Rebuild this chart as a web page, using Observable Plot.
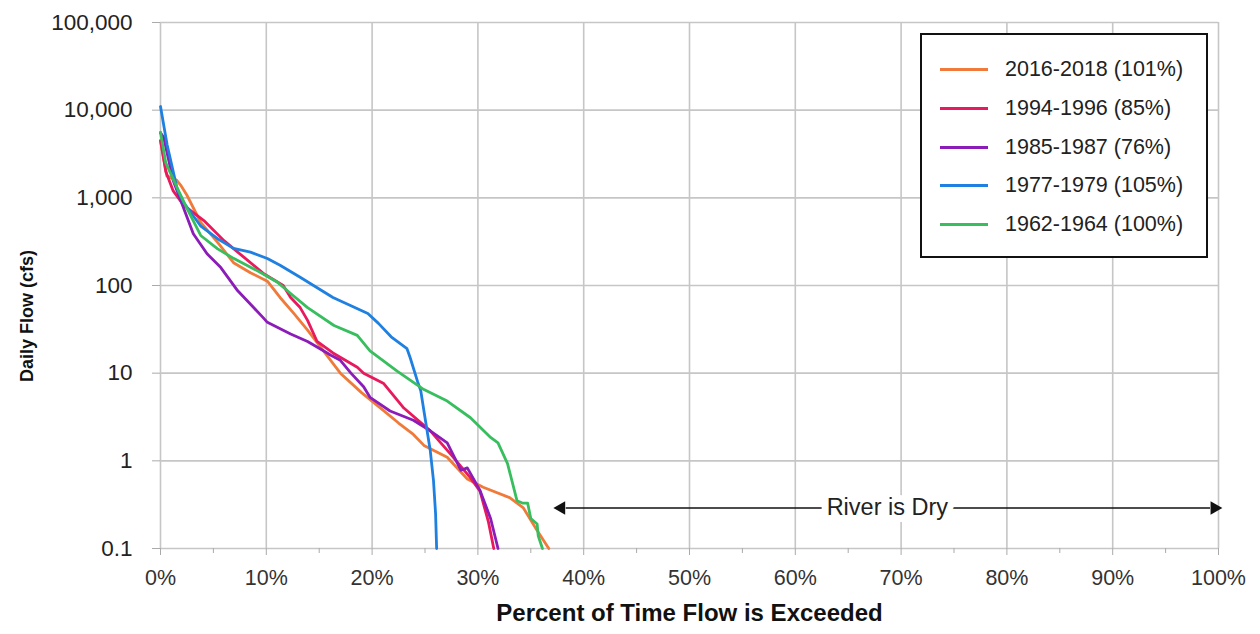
<!DOCTYPE html>
<html>
<head>
<meta charset="utf-8">
<script src="https://cdn.jsdelivr.net/npm/d3@7"></script>
<script src="https://cdn.jsdelivr.net/npm/@observablehq/plot@0.6"></script>
<style>
  html, body { margin: 0; padding: 0; background: #fff; }
  #wrap { position: relative; width: 1260px; height: 634px; font-family: "Liberation Sans", Arial, sans-serif; }
  #legend { position: absolute; left: 920px; top: 33px; width: 284px; height: 221px; border: 2px solid #111; background: #fff; }
  .row { position: absolute; left: 18px; height: 24px; display: flex; align-items: center; font-size: 21.5px; color: #222; }
  .sw { width: 48px; height: 3px; margin-right: 17px; }
</style>
</head>
<body>
<div id="wrap"></div>
<script>
// ---- Data (percent of time exceeded, daily flow in cfs) ----
const seriesNames = ["2016-2018 (101%)", "1994-1996 (85%)", "1985-1987 (76%)", "1977-1979 (105%)", "1962-1964 (100%)"];
const seriesColors = ["#F07A3A", "#E8195C", "#8C1CB8", "#1E80E0", "#38BE5E"];

const pct2016  = [0, 0.6, 1.5, 1.9, 2.5, 3.8, 5.4, 6.9, 8.5, 10.1, 11.3, 12.6, 13.9, 15.4, 17.0, 19.0, 20.8, 22.5, 23.9, 24.9, 27.1, 29.0, 30.5, 33.0, 34.3, 35.6, 36.7];
const flow2016 = [4500, 1780, 1600, 1400, 1070, 525, 310, 182, 140, 112, 73, 48, 31, 18, 10, 6, 4, 2.7, 2.0, 1.5, 1.1, 0.62, 0.5, 0.38, 0.29, 0.16, 0.1];

const pct1994  = [0, 0.5, 1.2, 2.2, 4.1, 6.0, 7.9, 9.8, 11.6, 12.3, 13.2, 13.9, 14.8, 16.3, 18.6, 19.2, 21.1, 23.0, 25.5, 27.4, 29.3, 30.2, 31.0, 31.5];
const flow1994 = [4500, 2000, 1200, 820, 550, 325, 209, 135, 100, 73, 56, 40, 23, 17, 11.7, 10, 7.6, 4, 2.2, 1.2, 0.64, 0.45, 0.2, 0.1];

const pct1985  = [0, 0.3, 1.2, 3.1, 4.4, 5.7, 7.3, 8.8, 9.7, 10.1, 12.3, 13.9, 15.4, 16.1, 17.0, 18.0, 19.2, 19.8, 21.7, 23.9, 25.5, 27.1, 28.4, 29.0, 30.2, 31.2, 31.9];
const flow1985 = [5500, 4900, 1580, 390, 230, 160, 87, 56, 43, 38, 28, 23, 18, 16, 14, 10, 7, 5.3, 3.7, 2.9, 2.2, 1.6, 0.78, 0.83, 0.46, 0.22, 0.1];

const pct1977  = [0, 0.63, 1.58, 2.17, 3.78, 5.36, 6.9, 8.5, 10.1, 11.3, 13.2, 16.3, 19.6, 20.6, 21.8, 23.3, 23.6, 24.3, 24.6, 24.9, 25.5, 25.8, 26.0, 26.1];
const flow1977 = [11000, 4000, 1260, 890, 480, 344, 265, 240, 203, 170, 124, 73, 48, 37, 26, 19, 15, 8, 6.3, 3.7, 1.3, 0.6, 0.25, 0.1];

const pct1962  = [0, 0.5, 1.6, 2.5, 3.8, 5.4, 6.9, 9.5, 11.1, 12.3, 13.9, 16.4, 18.6, 19.8, 22.4, 24.9, 27.1, 29.3, 31.2, 31.9, 32.8, 33.7, 34.2, 34.7, 35.0, 35.6, 35.7, 36.1];
const flow1962 = [5600, 2500, 1280, 760, 372, 262, 204, 140, 108, 81, 56, 35, 27, 18, 10.5, 6.5, 4.8, 3.1, 1.85, 1.6, 0.93, 0.35, 0.33, 0.33, 0.22, 0.19, 0.14, 0.1];

const xTicks = [0, 10, 20, 30, 40, 50, 60, 70, 80, 90, 100];
const xMinorTicks = [5, 15, 25, 35, 45, 55, 65, 75, 85, 95];
const yTicks = [0.1, 1, 10, 100, 1000, 10000, 100000];

// Annotation "River is Dry"
const dryText = "River is Dry";
const dryStart = 37.5, dryEnd = 100, dryMid = 68.7, dryLevel = 0.29;
const yTitleAt = 45; // flow level at which the y-axis title is centred

// ---- Build table ----
const pctArrays = [pct2016, pct1994, pct1985, pct1977, pct1962];
const flowArrays = [flow2016, flow1994, flow1985, flow1977, flow1962];
const rows = [];
seriesNames.forEach((name, i) => {
  pctArrays[i].forEach((p, j) => rows.push({series: name, pct: p, flow: flowArrays[i][j]}));
});

const font = '"Liberation Sans", Arial, sans-serif';
const gridColor = "#c6c6c6";

const chart = Plot.plot({
  width: 1260,
  height: 634,
  marginLeft: 160,
  marginRight: 42,
  marginTop: 22,
  marginBottom: 86,
  style: {fontFamily: font, background: "#fff", color: "#222", overflow: "visible"},
  x: {domain: [0, 100], label: null},
  y: {type: "log", domain: [0.1, 100000], label: null},
  color: {domain: seriesNames, range: seriesColors},
  marks: [
    Plot.gridX(xTicks, {stroke: gridColor, strokeOpacity: 1, strokeWidth: 1.6}),
    Plot.gridY(yTicks, {stroke: gridColor, strokeOpacity: 1, strokeWidth: 1.6}),
    Plot.axisX(xTicks, {tickSize: 7, tickPadding: 14, stroke: "#aaa", fontSize: 21.5, fill: "#333",
      tickFormat: d => d + "%"}),
    Plot.axisX(xMinorTicks, {tickSize: 5, stroke: "#aaa", text: null}),
    Plot.axisY(yTicks, {tickSize: 8, tickPadding: 20, stroke: "#aaa", fontSize: 22.5, fill: "#222",
      tickFormat: d => d3.format(",")(d)}),
    Plot.text(["Daily Flow (cfs)"], {frameAnchor: "left", textAnchor: "middle", y: () => yTitleAt, dx: -133, rotate: -90, fontSize: 18, fontWeight: "bold", fill: "#111"}),
    Plot.text(["Percent of Time Flow is Exceeded"], {frameAnchor: "bottom", dy: 72, fontSize: 24, fontWeight: "bold", fill: "#111"}),
    Plot.line(rows, {x: "pct", y: "flow", z: "series", stroke: "series", strokeWidth: 2.8, strokeLinejoin: "round"}),
    // River is Dry annotation
    Plot.link([0], {x1: dryStart + 0.8, x2: dryEnd - 0.8, y1: dryLevel, y2: dryLevel, stroke: "#111", strokeWidth: 1.6}),
    Plot.dot([0], {x: dryStart, y: dryLevel, symbol: "triangle2", r: 6.5, fill: "#111", rotate: -90, dx: 4}),
    Plot.dot([0], {x: dryEnd, y: dryLevel, symbol: "triangle2", r: 6.5, fill: "#111", rotate: 90, dx: -4}),
    Plot.text([dryText], {x: dryMid, y: dryLevel, fontSize: 23.5, fill: "#222", stroke: "#fff", strokeWidth: 14, paintOrder: "stroke"})
  ]
});

const wrap = document.getElementById("wrap");
wrap.appendChild(chart);

// Legend (HTML, over the plot)
const legend = document.createElement("div");
legend.id = "legend";
const rowTops = [22, 61, 100, 138, 177];
seriesNames.forEach((name, i) => {
  const r = document.createElement("div");
  r.className = "row";
  r.style.top = rowTops[i] + "px";
  const sw = document.createElement("span");
  sw.className = "sw";
  sw.style.background = seriesColors[i];
  const t = document.createElement("span");
  t.textContent = name;
  r.appendChild(sw);
  r.appendChild(t);
  legend.appendChild(r);
});
wrap.appendChild(legend);
</script>
</body>
</html>
